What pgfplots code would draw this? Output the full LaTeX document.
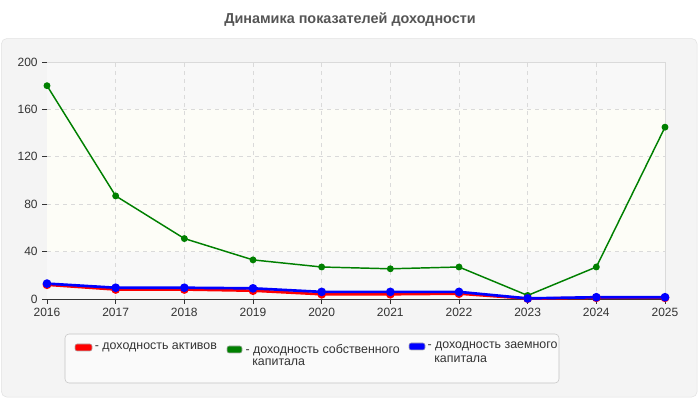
\documentclass[border=0pt]{standalone}
\usepackage{fontspec}
\setmainfont{Liberation Sans}
\usepackage{pgfplots}
\pgfplotsset{compat=1.18}
\definecolor{panel}{HTML}{F4F4F4}
\definecolor{panelborder}{HTML}{E2E2E2}
\definecolor{titlegray}{HTML}{555555}
\definecolor{txt}{HTML}{333333}
\definecolor{gridc}{HTML}{DADADA}
\definecolor{hatch}{HTML}{F8F8F8}
\definecolor{band}{HTML}{FDFDF7}
\definecolor{legfill}{HTML}{FAFAFA}
\definecolor{legborder}{HTML}{C4C4C4}
\definecolor{sgreen}{HTML}{008000}
\definecolor{sred}{HTML}{FF0000}
\definecolor{sblue}{HTML}{0000FF}
\begin{document}
\begin{tikzpicture}
\path[use as bounding box] (0,0) rectangle (525pt,300pt);
\fill[white] (0,0) rectangle (525pt,300pt);
\draw[panelborder, fill=panel, rounded corners=4pt] (1.1pt,2.2pt) rectangle (522.8pt,271.1pt);
\node[font=\bfseries\fontsize{10.8}{13}\selectfont, text=titlegray] at (262.5pt,285pt) {Динамика показателей доходности};
\begin{axis}[
  at={(35.25pt,75.75pt)}, anchor=south west,
  scale only axis, width=463.5pt, height=177.75pt,
  xmin=2016, xmax=2025, ymin=0, ymax=200,
  xtick={2016,...,2025}, ytick={0,40,80,120,160,200},
  xticklabel style={/pgf/number format/1000 sep={}},
  /pgf/number format/assume math mode=true,
  ticklabel style={font=\fontsize{9}{11}\selectfont, text=txt},
  axis x line*=bottom, axis y line*=left,
  axis line style={draw=txt, line width=0.6pt, -},
  tick align=outside, major tick length=3.5pt,
  tick style={draw=txt, line width=0.6pt},
  clip=false,
  axis background/.style={fill=white},
]
\fill[hatch] (axis cs:2016,0) rectangle (axis cs:2025,40);
\fill[band] (axis cs:2016,40) rectangle (axis cs:2025,160);
\fill[hatch] (axis cs:2016,160) rectangle (axis cs:2025,200);
\draw[gridc, line width=0.6pt] (axis cs:2016,200) -- (axis cs:2025,200) -- (axis cs:2025,0);
\pgfplotsinvokeforeach{40,80,120,160}{
  \draw[gridc, dashed, line width=0.6pt] (axis cs:2016,#1) -- (axis cs:2025,#1);
}
\pgfplotsinvokeforeach{2017,2018,2019,2020,2021,2022,2023,2024}{
  \draw[gridc, dashed, line width=0.6pt] (axis cs:#1,0) -- (axis cs:#1,200);
}
\addplot[sgreen, line width=1.1pt, mark=*, mark size=2pt] coordinates {
 (2016,180) (2017,87) (2018,51) (2019,33) (2020,27) (2021,25.5) (2022,27) (2023,3) (2024,27) (2025,145)};
\addplot[sred, line width=2pt, mark=*, mark size=2.2pt] coordinates {
 (2016,12) (2017,8) (2018,8) (2019,7) (2020,4) (2021,4) (2022,4.5) (2023,0.3) (2024,1) (2025,1)};
\addplot[sblue, line width=2pt, mark=*, mark size=2.2pt] coordinates {
 (2016,13) (2017,9.5) (2018,9.5) (2019,9) (2020,6) (2021,6) (2022,6) (2023,0.5) (2024,1.5) (2025,1.5)};
\end{axis}
% legend
\draw[legborder, fill=legfill, rounded corners=3pt] (48.75pt,12.75pt) rectangle (419.25pt,49.5pt);
\fill[sred, draw=gray!60, rounded corners=1.5pt] (56.25pt,36.75pt) rectangle (69pt,42pt);
\node[anchor=west, inner sep=0pt, font=\fontsize{9.3}{11}\selectfont, text=txt] at (71pt,39.3pt) {- доходность активов};
\fill[sgreen, draw=gray!60, rounded corners=1.5pt] (170.25pt,35.25pt) rectangle (181.5pt,40.5pt);
\node[anchor=west, inner sep=0pt, font=\fontsize{9.3}{11}\selectfont, text=txt] at (184pt,37.5pt) {- доходность собственного};
\node[anchor=west, inner sep=0pt, font=\fontsize{9.3}{11}\selectfont, text=txt] at (189pt,28.5pt) {капитала};
\fill[sblue, draw=gray!60, rounded corners=1.5pt] (306.75pt,37.5pt) rectangle (318.75pt,42.75pt);
\node[anchor=west, inner sep=0pt, font=\fontsize{9.3}{11}\selectfont, text=txt] at (320.5pt,40pt) {- доходность заемного};
\node[anchor=west, inner sep=0pt, font=\fontsize{9.3}{11}\selectfont, text=txt] at (325.5pt,30.5pt) {капитала};
\end{tikzpicture}
\end{document}
